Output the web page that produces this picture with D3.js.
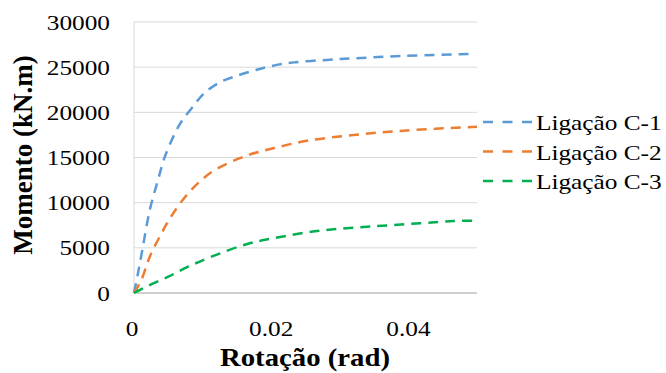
<!DOCTYPE html>
<html>
<head>
<meta charset="utf-8">
<script src="https://cdn.jsdelivr.net/npm/d3@7"></script>
<style>
  body { margin: 0; background: #fff; }
  text { font-family: "Liberation Serif", "Times New Roman", serif; fill: #000; }
</style>
</head>
<body>
<svg id="chart" width="666" height="373"></svg>
<script>
// Rotação (rad) vs Momento (kN.m)
var c1Rot = [0, 0.00058, 0.0013, 0.0023, 0.0035, 0.0045, 0.0062, 0.007, 0.0087, 0.0101, 0.0125, 0.015, 0.0174, 0.0198, 0.0233, 0.0281, 0.032, 0.0393, 0.0495];
var c1Mom = [0, 2180, 5130, 9190, 12510, 15090, 18040, 19070, 20730, 22020, 23310, 24050, 24600, 25090, 25530, 25800, 25980, 26240, 26460];
var c2Rot = [0, 0.00107, 0.0023, 0.004, 0.0054, 0.0071, 0.0093, 0.0118, 0.0164, 0.0203, 0.0252, 0.032, 0.0393, 0.05];
var c2Mom = [0, 1440, 4020, 6600, 8450, 10300, 12140, 13620, 15200, 16020, 16850, 17490, 17970, 18410];
var c3Rot = [0, 0.002, 0.005, 0.0079, 0.0113, 0.0164, 0.0203, 0.0271, 0.0344, 0.0417, 0.0465, 0.05];
var c3Mom = [0, 770, 1810, 2910, 4020, 5400, 6060, 6900, 7350, 7720, 7970, 7990];
var seriesNames = ["Ligação C-1", "Ligação C-2", "Ligação C-3"];
var seriesColors = ["#5b9bd5", "#ed7d31", "#00b050"];
var xTicks = [0, 0.02, 0.04];
var yTicks = [0, 5000, 10000, 15000, 20000, 25000, 30000];

var svg = d3.select("#chart");
// plot box (don't call these top/left: window.top is read-only)
var pLeft = 134, pRight = 477, pTop = 22, pBottom = 293;
var stretch = 1.15; // the picture's text is a little wide

var x = d3.scaleLinear().domain([0, 0.05]).range([pLeft, pRight]);
var y = d3.scaleLinear().domain([0, 30000]).range([pBottom, pTop]);

function wideText(g, px, py, anchor, size, weight, str) {
    return g.append("text")
        .attr("transform", "translate(" + px + "," + py + ") scale(" + stretch + ",1)")
        .attr("text-anchor", anchor)
        .attr("font-size", size)
        .attr("font-weight", weight)
        .text(str);
}

// gridlines
svg.append("g").selectAll("line")
    .data(yTicks.slice(1))
    .join("line")
    .attr("x1", pLeft).attr("x2", pRight)
    .attr("y1", d => y(d)).attr("y2", d => y(d))
    .attr("stroke", "#d9d9d9").attr("stroke-width", 1);

svg.append("line")
    .attr("x1", pLeft).attr("x2", pLeft).attr("y1", pTop).attr("y2", pBottom)
    .attr("stroke", "#d9d9d9");
svg.append("line")
    .attr("x1", pLeft).attr("x2", pRight).attr("y1", pBottom).attr("y2", pBottom)
    .attr("stroke", "#bfbfbf").attr("stroke-width", 1.5);

// tick labels
var labels = svg.append("g");
yTicks.forEach(function (t) {
    wideText(labels, 110, y(t) + 7.5, "end", 22, "normal", t);
});
xTicks.forEach(function (t) {
    wideText(labels, x(t) - (t === 0 ? 2 : 0), 336, "middle", 22, "normal", t);
});

// axis titles
wideText(svg, 305, 366, "middle", 25, "bold", "Rotação (rad)");
svg.append("text")
    .attr("transform", "translate(32,155) rotate(-90)")
    .attr("text-anchor", "middle")
    .attr("font-size", 27)
    .attr("font-weight", "bold")
    .text("Momento (kN.m)");

// curves
var series = [[c1Rot, c1Mom], [c2Rot, c2Mom], [c3Rot, c3Mom]];
var line = d3.line()
    .x(d => x(d[0]))
    .y(d => y(d[1]))
    .curve(d3.curveCatmullRom.alpha(0.5));

series.forEach(function (s, i) {
    var pts = s[0].map((r, k) => [r, s[1][k]]);
    svg.append("path")
        .attr("d", line(pts))
        .attr("fill", "none")
        .attr("stroke", seriesColors[i])
        .attr("stroke-width", 2.5)
        .attr("stroke-dasharray", "10,7");
});

// legend
var legend = svg.append("g");
seriesNames.forEach(function (name, i) {
    var ly = 122 + i * 29.5;
    legend.append("line")
        .attr("x1", 483).attr("x2", 532).attr("y1", ly).attr("y2", ly)
        .attr("stroke", seriesColors[i])
        .attr("stroke-width", 2.5)
        .attr("stroke-dasharray", "10,9.5");
    wideText(legend, 536, ly + 8, "start", 22, "normal", name);
});
</script>
</body>
</html>
